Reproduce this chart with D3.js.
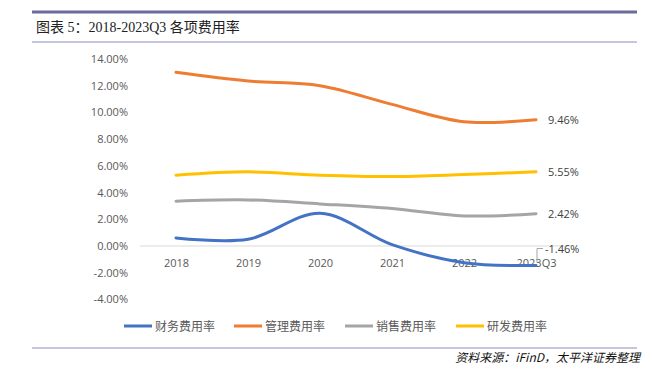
<!DOCTYPE html>
<html><head><meta charset="utf-8">
<script src="https://cdn.jsdelivr.net/npm/d3@7/dist/d3.min.js"></script>
<style>body{margin:0;background:#fff}</style>
</head><body>
<svg id="c" width="652" height="370"></svg>
<script>
const categories = ["2018","2019","2020","2021","2022","2023Q3"];
const seriesNames = ["财务费用率","管理费用率","销售费用率","研发费用率"];
const finance = [0.60, 0.50, 2.45, 0.10, -1.25, -1.46];
const admin   = [13.00, 12.35, 12.00, 10.60, 9.30, 9.46];
const sales   = [3.35, 3.45, 3.15, 2.80, 2.25, 2.42];
const rnd     = [5.30, 5.55, 5.30, 5.20, 5.35, 5.55];
const yTicks  = [-4,-2,0,2,4,6,8,10,12,14];
const colors = ["#4472C4","#ED7D31","#A5A5A5","#FFC000"];
const series = [finance, admin, sales, rnd];

const pct = d => d3.format(".2f")(d).replace("−","-")+"%";
const svg = d3.select("#c");
// header lines
svg.append("line").attr("x1",32).attr("x2",637).attr("y1",12).attr("y2",12)
  .attr("stroke","#6C6C9C").attr("stroke-width",3);
svg.append("line").attr("x1",32).attr("x2",637).attr("y1",42).attr("y2",42)
  .attr("stroke","#8C8CBC").attr("stroke-width",1);
svg.append("text").attr("x",36).attr("y",32)
  .attr("font-family","'Liberation Serif','Noto Sans CJK SC',serif").attr("font-size",14).attr("fill","#222")
  .text("图表 5：2018-2023Q3 各项费用率");
svg.append("line").attr("x1",32).attr("x2",637).attr("y1",348).attr("y2",348)
  .attr("stroke","#8C8CBC").attr("stroke-width",1);
svg.append("text").attr("x",640).attr("y",362).attr("text-anchor","end")
  .attr("font-family","'Noto Sans CJK SC',sans-serif").attr("font-size",12).attr("font-style","italic")
  .attr("fill","#111").text("资料来源：iFinD，太平洋证券整理");

const x = d3.scalePoint().domain(categories).range([176,536]);
const y = d3.scaleLinear().domain([-4,14]).range([299.4,59]);

const font = "'Open Sans','DejaVu Sans',sans-serif";
// zero line
svg.append("line").attr("x1",140).attr("x2",572).attr("y1",y(0)).attr("y2",y(0))
  .attr("stroke","#D9D9D9").attr("stroke-width",1);
// y axis labels
const yAxis = d3.axisLeft(y).tickValues(yTicks).tickSize(0).tickPadding(0).tickFormat(pct);
const ga = svg.append("g").attr("transform","translate(128,0)").call(yAxis);
ga.select(".domain").remove();
ga.selectAll("text").attr("font-family",font).attr("font-size",11).attr("fill","#595959");
// x labels
const xAxis = d3.axisBottom(x).tickSize(0).tickPadding(0);
const gx = svg.append("g").attr("transform","translate(0,259)").call(xAxis);
gx.select(".domain").remove();
gx.selectAll("text").attr("font-family",font).attr("font-size",11).attr("fill","#595959");

const line = d3.line().x((d,i)=>x(categories[i])).y(d=>y(d)).curve(d3.curveCatmullRom.alpha(0.5));
series.forEach((s,k)=>{
  svg.append("path").attr("d",line(s)).attr("fill","none")
    .attr("stroke",colors[k]).attr("stroke-width",3).attr("stroke-linecap","round");
});
// end labels
const last = categories.length-1;
[admin, rnd, sales].forEach(s=>{
  svg.append("text").attr("x",548).attr("y",y(s[last])+4)
    .attr("font-family",font).attr("font-size",11).attr("fill","#404040")
    .text(pct(s[last]));
});
// finance label with leader
const fy = y(finance[last]);
svg.append("path").attr("d",`M${x(categories[last])+1},${fy-3}V${fy-17}H${x(categories[last])+7}`)
  .attr("fill","none").attr("stroke","#A6A6A6").attr("stroke-width",1);
svg.append("text").attr("x",545).attr("y",fy-12.5)
  .attr("font-family",font).attr("font-size",11).attr("fill","#404040")
  .text(pct(finance[last]));

// legend
const lx = [124,234,345,456];
seriesNames.forEach((n,k)=>{
  svg.append("line").attr("x1",lx[k]).attr("x2",lx[k]+28).attr("y1",326).attr("y2",326)
    .attr("stroke",colors[k]).attr("stroke-width",3);
  svg.append("text").attr("x",lx[k]+31).attr("y",330.5)
    .attr("font-family","'Noto Sans CJK SC',sans-serif").attr("font-size",12).attr("fill","#595959").text(n);
});
</script>
</body></html>
